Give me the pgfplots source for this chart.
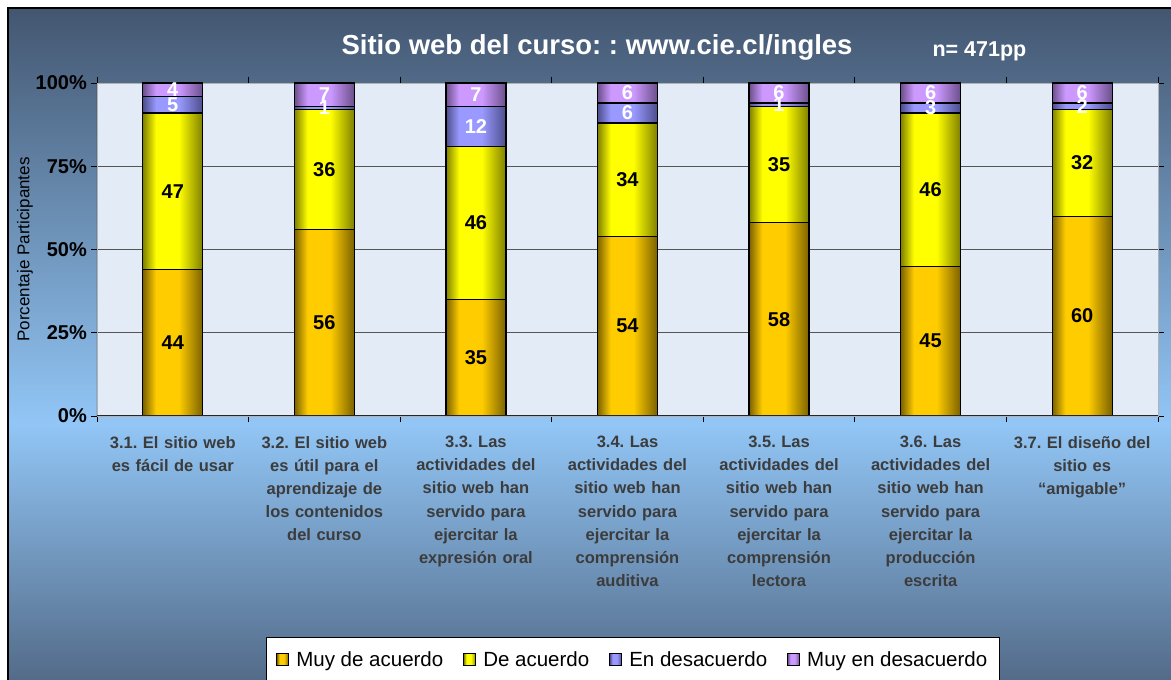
\documentclass[border=0pt]{standalone}
\usepackage{fontspec}
\setmainfont{Liberation Sans}
\usepackage{pgfplots}
\usepackage{pgfplotstable}
\pgfplotsset{compat=1.18}
\frenchspacing

\definecolor{bgtop}{RGB}{67,86,112}
\definecolor{bglight}{RGB}{146,198,246}
\definecolor{bgbot}{RGB}{78,100,128}
\pgfdeclareverticalshading{bgsh}{100bp}{color(0bp)=(bgbot); color(25bp)=(bgbot); color(45bp)=(bglight); color(75bp)=(bgtop); color(100bp)=(bgtop)}

\definecolor{goldL}{RGB}{255,204,0}
\definecolor{goldD}{RGB}{122,97,0}
\definecolor{yelL}{RGB}{255,255,0}
\definecolor{yelD}{RGB}{127,127,0}
\definecolor{bluL}{RGB}{153,153,255}
\definecolor{bluD}{RGB}{77,77,140}
\definecolor{purL}{RGB}{204,153,255}
\definecolor{purD}{RGB}{107,79,138}
\definecolor{labc}{RGB}{60,60,60}
\definecolor{plotbg}{RGB}{227,236,246}
\definecolor{gridc}{RGB}{85,85,85}

\pgfdeclarehorizontalshading{goldsh}{100bp}{color(0bp)=(goldD); color(25bp)=(goldD); color(36bp)=(goldL); color(55bp)=(goldL); color(75bp)=(goldD); color(100bp)=(goldD)}
\pgfdeclarehorizontalshading{yelsh}{100bp}{color(0bp)=(yelD); color(25bp)=(yelD); color(36bp)=(yelL); color(55bp)=(yelL); color(75bp)=(yelD); color(100bp)=(yelD)}
\pgfdeclarehorizontalshading{blush}{100bp}{color(0bp)=(bluD); color(25bp)=(bluD); color(36bp)=(bluL); color(55bp)=(bluL); color(75bp)=(bluD); color(100bp)=(bluD)}
\pgfdeclarehorizontalshading{pursh}{100bp}{color(0bp)=(purD); color(25bp)=(purD); color(36bp)=(purL); color(55bp)=(purL); color(75bp)=(purD); color(100bp)=(purD)}

% a = Muy de acuerdo, b = De acuerdo, c = En desacuerdo, d = Muy en desacuerdo
\pgfplotstableread{
x a b c d
0 44 47 5 4
1 56 36 1 7
2 35 46 12 7
3 54 34 6 6
4 58 35 1 6
5 45 46 3 6
6 60 32 2 6
}\datatable

\pgfplotsset{
  segbar/.style={forget plot, ybar, bar shift=0pt, bar width=60pt,
    shade, shading=#1, draw=black, line width=1.2pt},
  mylegend/.style={legend image code/.code={\shade[shading=#1, draw=black, line width=1pt] (0pt,-6pt) rectangle (12pt,6pt);}},
  seglab/.style={forget plot, only marks, mark=text, text mark={}, nodes near coords,
    every node near coord/.append style={text=#1}},
}

\begin{document}
\begin{tikzpicture}[x=1pt,y=1pt]
\useasboundingbox (0,0) rectangle (1171,680);
\begin{scope}
\clip (0,0) rectangle (1171,680);
\shade[shading=bgsh, draw=black, line width=1.5pt] (8,-20) rectangle (1200,672);
\end{scope}
\node[anchor=base, text=white, font=\fontsize{27.5}{32}\selectfont\bfseries] at (597,625) {Sitio web del curso: : www.cie.cl/ingles};
\node[anchor=base west, text=white, font=\fontsize{21.5}{25}\selectfont\bfseries] at (929,623) {n= 471pp};
\begin{axis}[
  at={(97pt,264pt)}, anchor=south west,
  scale only axis, width=1061pt, height=333pt,
  xmin=-0.5, xmax=6.5, ymin=0, ymax=100,
  enlargelimits=false,
  xtick={0,...,6},
  xticklabels={{3.1. El sitio web\\es fácil de usar},
    {3.2. El sitio web\\es útil para el\\aprendizaje de\\los contenidos\\del curso},
    {3.3. Las\\actividades del\\sitio web han\\servido para\\ejercitar la\\expresión oral},
    {3.4. Las\\actividades del\\sitio web han\\servido para\\ejercitar la\\comprensión\\auditiva},
    {3.5. Las\\actividades del\\sitio web han\\servido para\\ejercitar la\\comprensión\\lectora},
    {3.6. Las\\actividades del\\sitio web han\\servido para\\ejercitar la\\producción\\escrita},
    {3.7. El diseño del\\sitio es\\“amigable”}},
  minor xtick={-0.5,0.5,...,6.5},
  ytick={0,25,50,75,100},
  yticklabel={\pgfmathprintnumber{\tick}\%},
  /pgf/number format/assume math mode=true,
  tick align=outside,
  major tick length=6pt, minor tick length=6pt,
  major x tick style={draw=none},
  minor x tick style={draw=black, line width=0.8pt},
  ytick style={draw=black, line width=0.8pt},
  ymajorgrids, grid style={draw=gridc, line width=0.8pt},
  axis line style={draw=gray!60, line width=0.8pt},
  axis background/.style={fill=plotbg},
  xticklabel style={font=\fontsize{16.5}{23.1}\selectfont\bfseries, text=labc, text width=160pt, align=center, anchor=north, inner sep=0pt, yshift=-14pt},
  yticklabel style={font=\fontsize{20}{24}\selectfont\bfseries, text=black, inner sep=0pt, xshift=-4pt},
  ylabel={Porcentaje Participantes},
  every axis y label/.style={at={(axis description cs:-0.0679,0.5)}, rotate=90, anchor=center, font=\fontsize{17}{20}\selectfont},
  legend style={at={(axis description cs:0.505,-0.6637)}, anchor=north, draw=black, line width=0.8pt, fill=white,
    font=\fontsize{20.5}{24}\selectfont, inner xsep=10pt, inner ysep=12pt,
    /tikz/every even column/.append style={column sep=18pt},
    /tikz/every odd column/.append style={column sep=5pt}},
  legend columns=4, legend cell align=left,
  nodes near coords align={center},
  every node near coord/.append style={anchor=center, font=\fontsize{20}{24}\selectfont\bfseries},
  point meta=explicit,
]
% bars, one per plot so that each bar gets its own cylinder shading;
% drawn from the top of the stack down, each one from 0 to its cumulative value
\pgfplotsinvokeforeach{0,...,6}{
  \addplot[segbar=pursh, restrict x to domain=#1:#1]
    table[x=x, y expr=\thisrow{a}+\thisrow{b}+\thisrow{c}+\thisrow{d}]{\datatable};
}
\pgfplotsinvokeforeach{0,...,6}{
  \addplot[segbar=blush, restrict x to domain=#1:#1]
    table[x=x, y expr=\thisrow{a}+\thisrow{b}+\thisrow{c}]{\datatable};
}
\pgfplotsinvokeforeach{0,...,6}{
  \addplot[segbar=yelsh, restrict x to domain=#1:#1]
    table[x=x, y expr=\thisrow{a}+\thisrow{b}]{\datatable};
}
\pgfplotsinvokeforeach{0,...,6}{
  \addplot[segbar=goldsh, restrict x to domain=#1:#1]
    table[x=x, y=a]{\datatable};
}
\addlegendimage{mylegend=goldsh}\addlegendentry{Muy de acuerdo}
\addlegendimage{mylegend=yelsh}\addlegendentry{De acuerdo}
\addlegendimage{mylegend=blush}\addlegendentry{En desacuerdo}
\addlegendimage{mylegend=pursh}\addlegendentry{Muy en desacuerdo}
% value labels, centred in each segment
\addplot[seglab=black] table[x=x, y expr=\thisrow{a}/2, meta=a]{\datatable};
\addplot[seglab=black] table[x=x, y expr=\thisrow{a}+\thisrow{b}/2, meta=b]{\datatable};
\addplot[seglab=white] table[x=x, y expr=\thisrow{a}+\thisrow{b}+\thisrow{c}/2, meta=c]{\datatable};
\addplot[seglab=white] table[x=x, y expr=\thisrow{a}+\thisrow{b}+\thisrow{c}+\thisrow{d}/2, meta=d]{\datatable};
\draw[draw=black!85, line width=1pt] (rel axis cs:0,1) -- (rel axis cs:0,0) -- (rel axis cs:1,0);
\end{axis}
\end{tikzpicture}
\end{document}
